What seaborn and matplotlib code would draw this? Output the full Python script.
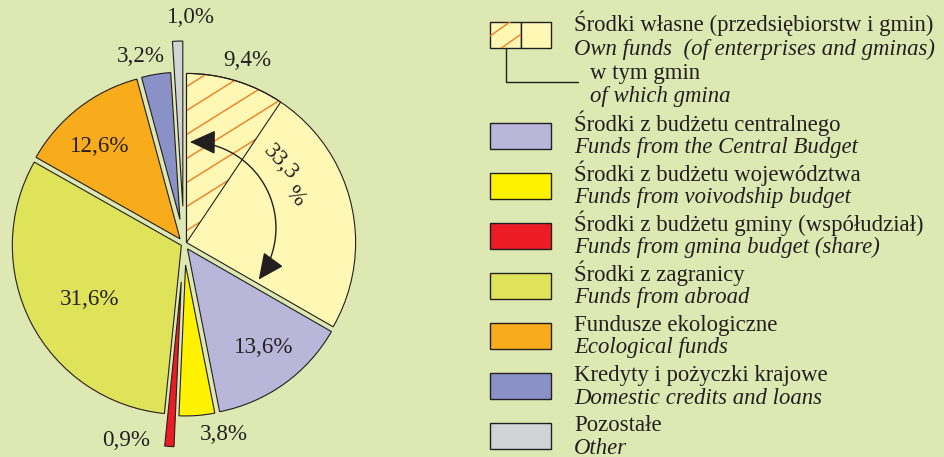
import numpy as np
import matplotlib
matplotlib.use("Agg")
import matplotlib.pyplot as plt
import seaborn as sns
from matplotlib.patches import Wedge, Rectangle, FancyArrowPatch
from matplotlib.collections import LineCollection
from matplotlib.path import Path

# ---------------- data ----------------
shares = [33.3, 13.6, 3.8, 0.9, 31.6, 12.6, 3.2, 1.0]
gmina_share = 9.4  # part of own funds that belongs to gminas

names_pl = [
    "Środki własne (przedsiębiorstw i gmin)",
    "Środki z budżetu centralnego",
    "Środki z budżetu województwa",
    "Środki z budżetu gminy (współudział)",
    "Środki z zagranicy",
    "Fundusze ekologiczne",
    "Kredyty i pożyczki krajowe",
    "Pozostałe",
]
names_en = [
    "Own funds  (of enterprises and gminas)",
    "Funds from the Central Budget",
    "Funds from voivodship budget",
    "Funds from gmina budget (share)",
    "Funds from abroad",
    "Ecological funds",
    "Domestic credits and loans",
    "Other",
]
gmina_pl = "w tym gmin"
gmina_en = "of which gmina"

colors = ["#fff8b4", "#bab6da", "#fff200", "#ed1c24",
          "#dfe35a", "#f9ac1b", "#8a91c7", "#d1d3d4"]

# ---------------- style ----------------
BG = "#dde8b3"
INK = "#231f20"
HATCH = "#f47b20"
sns.set_theme(style="white", rc={"figure.facecolor": BG, "axes.facecolor": BG})
plt.rcParams["font.family"] = ["Liberation Serif", "DejaVu Serif"]
palette = sns.color_palette(colors)

W, H = 944, 457
R_PX = 172.0          # pie radius in pixels
CX, CY = 184.0, 244.0  # pie centre (pixels from left / top)
FS = 16.6   # pie labels
LFS = 16.4  # legend


def fmt(v):
    return f"{v:.1f}".replace(".", ",")


fig = plt.figure(figsize=(W / 100, H / 100), dpi=100, facecolor=BG)

# pie axes: one data unit == pie radius
ax = fig.add_axes([0, 0, 1, 1])

# each slice is pushed out so that a strip of constant width separates it
half_gap = 2.5 / R_PX
pulled = {3: (0.22, 0.96), 7: (0.22, 0.96)}  # slices drawn pulled out of the pie
spans = np.array(shares) / sum(shares) * 360.0
explode, radii = [], []
for i, s in enumerate(spans):
    if i in pulled:
        e, r = pulled[i]
    else:
        e = half_gap / np.sin(np.radians(s / 2))
        r = 1.0 - e
    explode.append(e)
    radii.append(r)

wedges, _ = ax.pie(shares, colors=palette, startangle=90, counterclock=False,
                   explode=explode, radius=1.0,
                   wedgeprops=dict(edgecolor=INK, linewidth=0.8))
for w, r in zip(wedges, radii):
    w.set_radius(r)

ax.set_aspect("auto")
ax.set_xlim(-CX / R_PX, (W - CX) / R_PX)
ax.set_ylim(-(H - CY) / R_PX, CY / R_PX)
ax.axis("off")

# hatched part of own funds (gminas)
own = wedges[0]
ocx, ocy = own.center
gm_angle = gmina_share / sum(shares) * 360.0
hatch_w = Wedge((ocx, ocy), own.r, 90 - gm_angle, 90, fill=False,
                edgecolor=INK, linewidth=0.8, zorder=3)
ax.add_patch(hatch_w)
slope = np.tan(np.radians(32))
step = 24 / R_PX
segs = []
for k in range(-2, 14):
    b = ocy + (k + 0.5) * step
    xs = np.array([ocx - 0.1, ocx + 1.2])
    segs.append(np.column_stack([xs, b + slope * (xs - ocx)]))
lc = LineCollection(segs, colors=HATCH, linewidths=1.0, zorder=2)
ax.add_collection(lc)
lc.set_clip_path(hatch_w)


def polar(angle_cw, r, c=(0.0, 0.0)):
    a = np.radians(angle_cw)
    return c[0] + r * np.sin(a), c[1] + r * np.cos(a)


# curved double arrow spanning the own funds slice
own_span = spans[0]
arc_c = (ocx + 0.02, ocy + 0.085)
arc_t = np.linspace(0.0, own_span + 7.0, 80)
arc_pts = np.array([polar(t, 0.50, arc_c) for t in arc_t])
arr = FancyArrowPatch(path=Path(arc_pts),
                      arrowstyle="<|-|>,head_length=0.9,head_width=0.42",
                      mutation_scale=18, color=INK, linewidth=1.0, zorder=4)
ax.add_patch(arr)
x, y = polar(50.0, 0.735)
ax.text(x, y, fmt(shares[0]), rotation=-47, ha="center", va="center",
        fontsize=FS, color=INK, zorder=5)
x, y = polar(66.5, 0.70)
ax.text(x, y, "%", rotation=-47, ha="center", va="center",
        fontsize=FS, color=INK, zorder=5)

# percentage labels (angle clockwise from top, distance in radii)
label_vals = [gmina_share] + shares[1:]
label_pos = [(19.1, 1.13), (142.5, 0.76), (168.1, 1.13), (196.5, 1.19),
             (239.5, 0.64), (319.4, 0.75), (347.0, 1.12), (1.8, 1.32)]
for v, (ang, r) in zip(label_vals, label_pos):
    x, y = polar(ang, r)
    ax.text(x, y, fmt(v) + "%", ha="center", va="center",
            fontsize=FS, color=INK, zorder=5)

# ---------------- legend (pixel coordinates) ----------------
lax = fig.add_axes([0, 0, 1, 1], facecolor="none")
lax.set_xlim(0, W)
lax.set_ylim(H, 0)
lax.axis("off")

BX, BW, BH = 490, 61, 26
TX = 574

# own funds key: hatched half + plain half, with "of which" connector
oy = 35
left = Rectangle((BX, oy - BH / 2), BW / 2, BH, facecolor=colors[0],
                 edgecolor=INK, linewidth=1.0, zorder=2)
right = Rectangle((BX + BW / 2, oy - BH / 2), BW / 2, BH, facecolor=colors[0],
                  edgecolor=INK, linewidth=1.0, zorder=2)
lax.add_patch(left)
lax.add_patch(right)
lsegs = []
for b in (36, 56):
    xs = np.array([BX - 5, BX + BW / 2 + 5])
    lsegs.append(np.column_stack([xs, b - np.tan(np.radians(35)) * (xs - BX)]))
llc = LineCollection(lsegs, colors=HATCH, linewidths=1.0, zorder=3)
lax.add_collection(llc)
llc.set_clip_path(left)
lax.plot([BX + 16, BX + 16, 578], [oy + BH / 2, 82, 82], color=INK,
         linewidth=1.0, solid_joinstyle="miter")
lax.text(TX, 31.5, names_pl[0], fontsize=LFS, color=INK, va="baseline")
lax.text(TX, 54.5, names_en[0], fontsize=LFS, color=INK, va="baseline",
         style="italic")
lax.text(590, 79.5, gmina_pl, fontsize=LFS, color=INK, va="baseline")
lax.text(590, 102, gmina_en, fontsize=LFS, color=INK, va="baseline",
         style="italic")

y0, dy = 136.0, 50.0
for i in range(1, len(shares)):
    yc = y0 + (i - 1) * dy
    lax.add_patch(Rectangle((BX, yc - BH / 2), BW, BH, facecolor=colors[i],
                            edgecolor=INK, linewidth=1.0))
    lax.text(TX, yc - 5, names_pl[i], fontsize=LFS, color=INK, va="baseline")
    lax.text(TX, yc + 17.5, names_en[i], fontsize=LFS, color=INK,
             va="baseline", style="italic")

fig.savefig("out.png", dpi=100, facecolor=BG)
